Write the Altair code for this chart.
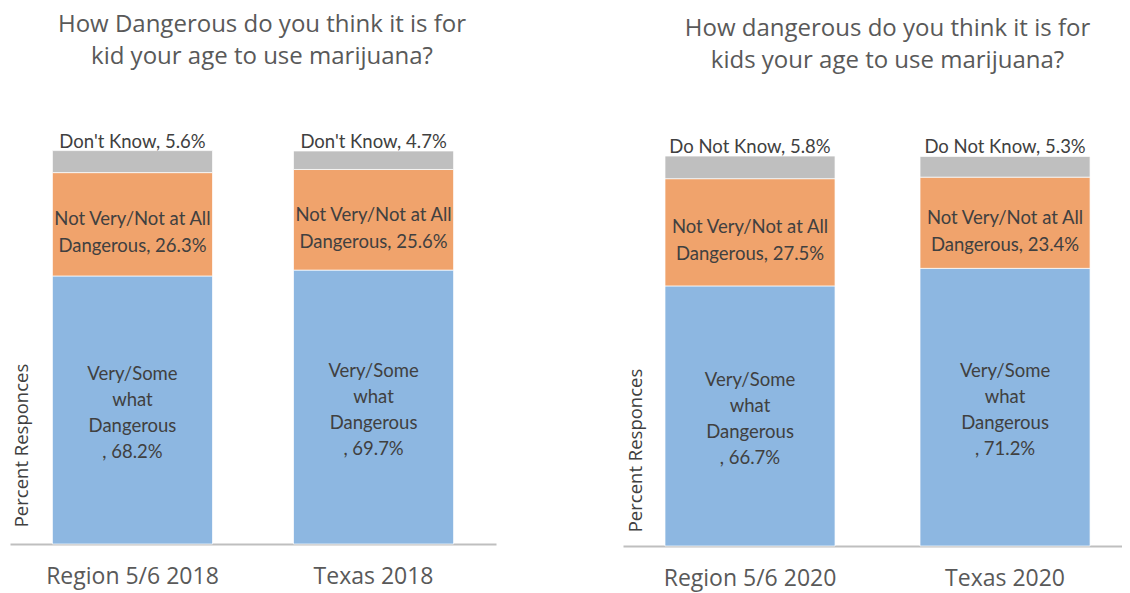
import altair as alt
import pandas as pd

# ---- data ----
groups_2018 = ["Region 5/6 2018", "Texas 2018"]
very_2018 = [68.2, 69.7]
not_very_2018 = [26.3, 25.6]
dont_know_2018 = [5.6, 4.7]

groups_2020 = ["Region 5/6 2020", "Texas 2020"]
very_2020 = [66.7, 71.2]
not_very_2020 = [27.5, 23.4]
dont_know_2020 = [5.8, 5.3]

segments = ["Very/Some what Dangerous", "Not Very/Not at All Dangerous", "Don't Know"]
seg_colors = ["#8DB7E1", "#F0A36C", "#BFBFBF"]

title_2018 = ["How Dangerous do you think it is for", "kid your age to use marijuana?"]
title_2020 = ["How dangerous do you think it is for", "kids your age to use marijuana?"]
dk_name_2018 = "Don't Know"
dk_name_2020 = "Do Not Know"
y_title = "Percent Responces"

FONT_TXT = "Lato"
FONT_AX = "Open Sans"
TXT = "#404040"


def build_df(groups, very, notvery, dk, dk_name):
    rows = []
    for g, v, n, d in zip(groups, very, notvery, dk):
        rows.append(dict(group=g, seg=segments[0], start=0.0, end=v, mid=v / 2,
                         label=f"Very/Some\nwhat\nDangerous\n, {v:.1f}%"))
        rows.append(dict(group=g, seg=segments[1], start=v, end=v + n, mid=v + n / 2,
                         label=f"Not Very/Not at All\nDangerous, {n:.1f}%"))
        rows.append(dict(group=g, seg=segments[2], start=v + n, end=v + n + d, mid=v + n + d,
                         label=f"{dk_name}, {d:.1f}%"))
    return pd.DataFrame(rows)


def panel(groups, very, notvery, dk, dk_name, title, width, height, ymax,
          pin, pout, align, title_dx, title_offset, ytx, yty):
    df = build_df(groups, very, notvery, dk, dk_name)
    base = alt.Chart(df)
    xenc = alt.X("group:N", sort=groups, title=None,
                 scale=alt.Scale(paddingInner=pin, paddingOuter=pout, align=align),
                 axis=alt.Axis(labelAngle=0, ticks=False, domainColor="#BFBFBF",
                               domainWidth=2, labelFont=FONT_AX, labelFontSize=23,
                               labelColor="#595959", labelPadding=21, grid=False))
    yscale = alt.Scale(domain=[0, ymax], nice=False, zero=True)
    yenc = alt.Y("start:Q", scale=yscale,
                 axis=alt.Axis(title=y_title, labels=False, ticks=False, domain=False,
                               grid=False, titleX=ytx, titleY=yty, titleAngle=270,
                               titleBaseline="middle", titleAlign="center",
                               titleFont=FONT_AX, titleFontSize=18.5,
                               titleFontWeight="normal", titleColor=TXT))
    bars = base.mark_bar(stroke="white", strokeWidth=0.7).encode(
        x=xenc,
        y=yenc,
        y2="end:Q",
        color=alt.Color("seg:N", scale=alt.Scale(domain=segments, range=seg_colors), legend=None),
    )
    t_blue = base.transform_filter(alt.datum.seg == segments[0]).mark_text(
        font=FONT_TXT, fontSize=18.5, color=TXT, lineBreak="\n", lineHeight=26,
        baseline="middle", align="center", dy=-36
    ).encode(x=alt.X("group:N", sort=groups), y=alt.Y("mid:Q", scale=yscale), text="label:N")
    t_orange = base.transform_filter(alt.datum.seg == segments[1]).mark_text(
        font=FONT_TXT, fontSize=18.5, color=TXT, lineBreak="\n", lineHeight=27,
        baseline="middle", align="center", dy=-5
    ).encode(x=alt.X("group:N", sort=groups), y=alt.Y("mid:Q", scale=yscale), text="label:N")
    t_gray = base.transform_filter(alt.datum.seg == segments[2]).mark_text(
        font=FONT_TXT, fontSize=18.5, color=TXT, baseline="bottom", align="center", dy=1
    ).encode(x=alt.X("group:N", sort=groups), y=alt.Y("mid:Q", scale=yscale), text="label:N")
    return alt.layer(bars, t_blue, t_orange, t_gray).properties(
        width=width, height=height,
        title=alt.TitleParams(text=title, font=FONT_AX, fontSize=24, fontWeight="normal",
                              color="#595959", anchor="middle", lineHeight=32,
                              dx=title_dx, offset=title_offset),
    )


left = panel(groups_2018, very_2018, not_very_2018, dont_know_2018, dk_name_2018,
             title_2018, 486, 393, 100, 0.336, 0.176, 0.5, 9, 64, 11, 294)
right = panel(groups_2020, very_2020, not_very_2020, dont_know_2020, dk_name_2020,
              title_2020, 499, 395, 101.3, 0.3333, 0.145, 0.568, 15, 65, 12, 299)

chart = alt.hconcat(left, right, spacing=127).properties(
    padding={"left": 2, "top": 4, "right": 0, "bottom": 10},
    background="white",
).configure_view(stroke=None)

chart.save("out.html", embed_options={"renderer": "svg", "actions": False})
